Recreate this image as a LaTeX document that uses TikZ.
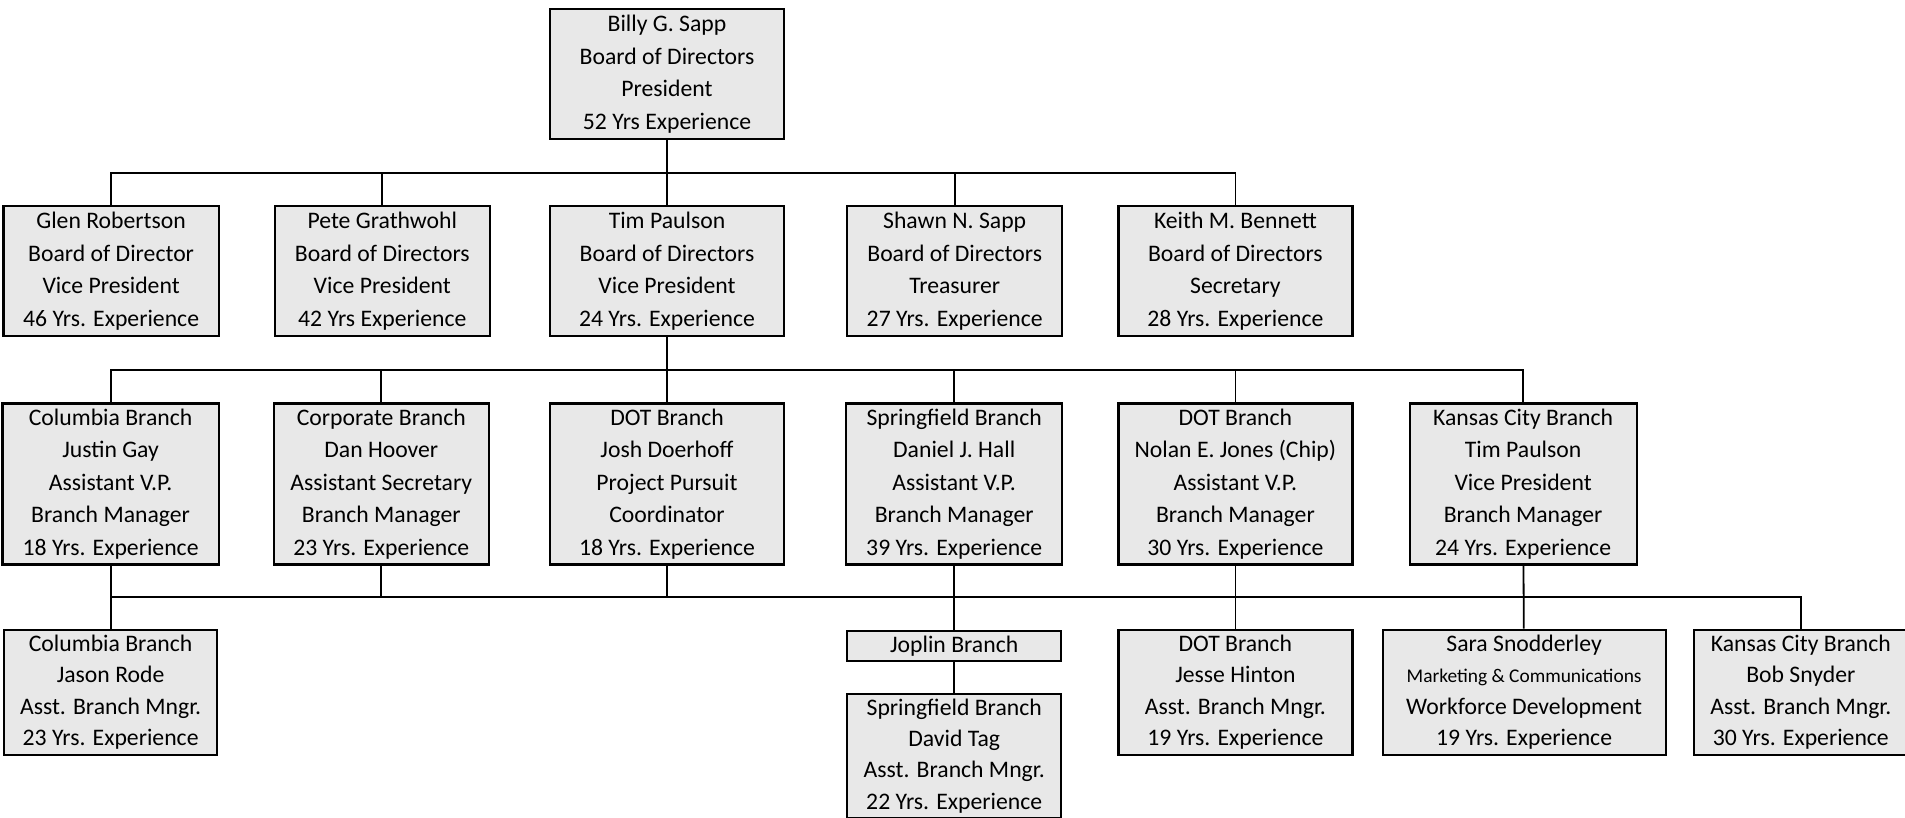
\documentclass[tikz,border=0pt]{standalone}
\usepackage{fontspec}
\setmainfont{Carlito}
\usetikzlibrary{positioning, calc}

\begin{document}
\begin{tikzpicture}[
  node distance=27pt,
  box/.style={draw, line width=1.1pt, fill=black!9, align=center, inner xsep=2pt, inner ysep=0pt,
    minimum width=107.5pt, minimum height=65pt, font=\fontsize{11.85}{16.3}\selectfont},
  wide/.style={box, minimum width=117pt},
  tall/.style={minimum height=80.5pt},
  low/.style={minimum height=62.5pt, font=\fontsize{11.85}{15.7}\selectfont},
  link/.style={line width=0.9pt}
]
\useasboundingbox (0,0) rectangle (952.5pt,-409pt);

% president
\node[wide, anchor=north] (billy) at (333.5pt,-4pt) {Billy G. Sapp\\Board of Directors\\President\\52 Yrs Experience};

% board of directors
\node[wide, below=32.5pt of billy] (tim) {Tim Paulson\\Board of Directors\\Vice President\\24 Yrs. Experience};
\node[box, left=29pt of tim] (pete) {Pete Grathwohl\\Board of Directors\\Vice President\\42 Yrs Experience};
\node[box, left=27pt of pete] (glen) {Glen Robertson\\Board of Director\\Vice President\\46 Yrs. Experience};
\node[box, right=30.5pt of tim] (shawn) {Shawn N. Sapp\\Board of Directors\\Treasurer\\27 Yrs. Experience};
\node[wide, right=27pt of shawn] (keith) {Keith M. Bennett\\Board of Directors\\Secretary\\28 Yrs. Experience};

% branches
\node[wide, tall, below=32.5pt of tim] (dot) {DOT Branch\\Josh Doerhoff\\Project Pursuit\\Coordinator\\18 Yrs. Experience};
\node[box, tall, left=29.5pt of dot] (corporate) {Corporate Branch\\Dan Hoover\\Assistant Secretary\\Branch Manager\\23 Yrs. Experience};
\node[box, tall, minimum width=108pt, left=26.5pt of corporate] (columbia) {Columbia Branch\\Justin Gay\\Assistant V.P.\\Branch Manager\\18 Yrs. Experience};
\node[box, tall, minimum width=108pt, right=30pt of dot] (springfield) {Springfield Branch\\Daniel J. Hall\\Assistant V.P.\\Branch Manager\\39 Yrs. Experience};
\node[wide, tall, right=27pt of springfield] (nolan) {DOT Branch\\Nolan E. Jones (Chip)\\Assistant V.P.\\Branch Manager\\30 Yrs. Experience};
\node[box, tall, minimum width=113.5pt, right=27.5pt of nolan] (kansas) {Kansas City Branch\\Tim Paulson\\Vice President\\Branch Manager\\24 Yrs. Experience};

% assistants
\node[box, low, minimum width=106.5pt, below=31.5pt of columbia] (jason) {Columbia Branch\\Jason Rode\\Asst. Branch Mngr.\\23 Yrs. Experience};
\node[box, minimum width=107pt, minimum height=15pt, below=32pt of springfield] (joplin) {Joplin Branch};
\node[box, low, minimum width=107pt, minimum height=62pt, below=15.5pt of joplin] (david) {Springfield Branch\\David Tag\\Asst. Branch Mngr.\\22 Yrs. Experience};
\node[wide, low, below=31.5pt of nolan] (jesse) {DOT Branch\\Jesse Hinton\\Asst. Branch Mngr.\\19 Yrs. Experience};
\node[box, low, minimum width=141.5pt, right=14pt of jesse] (sara) {Sara Snodderley\\{\fontsize{9.7}{15.7}\selectfont Marketing \& Communications}\\Workforce Development\\19 Yrs. Experience};
\node[box, low, minimum width=107pt, right=13pt of sara] (bob) {Kansas City Branch\\Bob Snyder\\Asst. Branch Mngr.\\30 Yrs. Experience};

\coordinate (bus1) at ($(billy.south)!0.5!(tim.north)$);
\coordinate (bus2) at ($(tim.south)!0.5!(dot.north)$);
\coordinate (bus3) at ($(columbia.south)!0.5!(jason.north)$);

\draw[link] (billy) -- (tim);
\draw[link] (glen.north) -- (glen.north |- bus1) -- (keith.north |- bus1) -- (keith.north);
\draw[link] (pete.north) -- (pete.north |- bus1);
\draw[link] (shawn.north) -- (shawn.north |- bus1);

\draw[link] (tim) -- (dot);
\draw[link] (columbia.north) -- (columbia.north |- bus2) -- (kansas.north |- bus2) -- (kansas.north);
\draw[link] (corporate.north) -- (corporate.north |- bus2);
\draw[link] (springfield.north) -- (springfield.north |- bus2);
\draw[link] (nolan.north) -- (nolan.north |- bus2);

\draw[link] (columbia) -- (jason);
\draw[link] (columbia.south |- bus3) -- (bob.north |- bus3) -- (bob.north);
\draw[link] (corporate.south) -- (corporate.south |- bus3);
\draw[link] (dot.south) -- (dot.south |- bus3);
\draw[link] (springfield) -- (joplin);
\draw[link] (joplin) -- (david);
\draw[link] (nolan) -- (jesse);
\draw[link] (kansas) -- (sara);
\end{tikzpicture}
\end{document}
